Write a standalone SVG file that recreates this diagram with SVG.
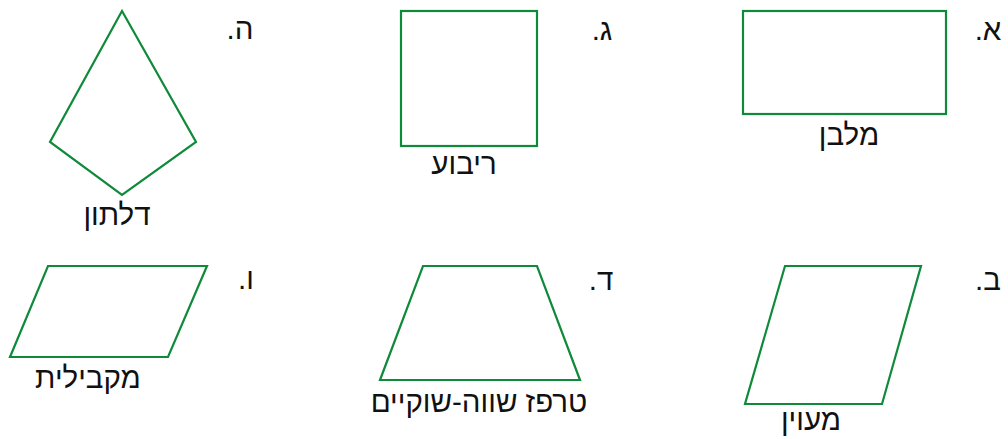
<svg xmlns="http://www.w3.org/2000/svg" width="1008" height="439" viewBox="0 0 1008 439">
<style>
.s{fill:none;stroke:#0f8a3a;stroke-width:2.2;stroke-linejoin:miter}
text{font-family:"Liberation Sans","DejaVu Sans",sans-serif;font-size:29.5px;fill:#111;direction:rtl;text-anchor:middle}
</style>
<rect width="1008" height="439" fill="#fff"/>
<g id="kite">
<polygon class="s" points="122,11 196,142 122,195 50,142"/>
<text x="117" y="225">דלתון</text>
<text x="240" y="39">ה.</text>
</g>
<g id="square">
<rect class="s" x="401" y="11" width="136" height="135"/>
<text x="464" y="174">ריבוע</text>
<text x="602" y="40">ג.</text>
</g>
<g id="rectangle">
<rect class="s" x="743" y="11" width="203" height="103"/>
<text x="849" y="145">מלבן</text>
<text x="988" y="40">א.</text>
</g>
<g id="parallelogram">
<polygon class="s" points="48,266 207,266 168,357 10,357"/>
<text x="88" y="388">מקבילית</text>
<text x="246" y="289">ו.</text>
</g>
<g id="trapezoid">
<polygon class="s" points="423,266 537,266 580,380 380,380"/>
<text x="479" y="412">טרפז שווה-שוקיים</text>
<text x="601" y="290">ד.</text>
</g>
<g id="rhombus">
<polygon class="s" points="785,266 921,266 882,404 745,404"/>
<text x="811" y="430">מעוין</text>
<text x="988" y="290">ב.</text>
</g>
<g id="connectors"></g>
</svg>
